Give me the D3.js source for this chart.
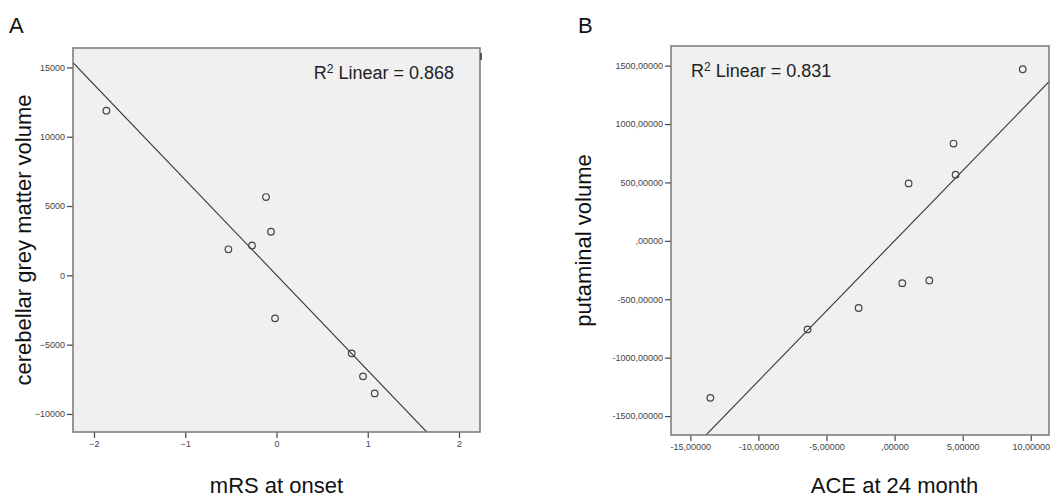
<!DOCTYPE html>
<html>
<head>
<meta charset="utf-8">
<script src="https://cdn.jsdelivr.net/npm/d3@7"></script>
<style>
  body { margin: 0; background: #fff; }
  text { font-family: "Liberation Sans", Arial, sans-serif; }
</style>
</head>
<body>
<svg width="1064" height="500"></svg>
<script>
// Panel A: mRS at onset vs cerebellar grey matter volume
var mrsX = [-1.864, -0.115, -0.06, -0.268, -0.527, -0.016, 0.824, 0.948, 1.076];
var cerebY = [11876, 5650, 3146, 2157, 1880, -3102, -5628, -7287, -8514];
var ticksAX = [-2, -1, 0, 1, 2];
var ticksAY = [15000, 10000, 5000, 0, -5000, -10000];

// Panel B: ACE at 24 month vs putaminal volume
var aceX = [9.41, 4.33, 4.48, 1.03, 0.565, 2.55, -2.64, -6.39, -13.53];
var putY = [1469, 833, 566, 492, -362, -339, -575, -758, -1344];
var ticksBX = [-15, -10, -5, 0, 5, 10];
var ticksBY = [1500, 1000, 500, 0, -500, -1000, -1500];

var svg = d3.select("svg");

// comma decimal like SPSS output: 1500,00000 / ,00000
function spssFmt(v) {
    var s = d3.format(".5f")(Math.abs(v)).replace(".", ",");
    if (s.charAt(0) === "0") s = s.slice(1);
    return (v < 0 ? "-" : "") + s;
}

function fit(xs, ys) {
    var mx = d3.mean(xs), my = d3.mean(ys), sxy = 0, sxx = 0;
    xs.forEach(function(x, i) { sxy += (x - mx) * (ys[i] - my); sxx += (x - mx) * (x - mx); });
    var b = sxy / sxx;
    return { b: b, a: my - b * mx };
}

function panel(o) {
    var g = svg.append("g");
    var x = d3.scaleLinear().domain(o.xDom).range([o.left, o.right]);
    var y = d3.scaleLinear().domain(o.yDom).range([o.bottom, o.top]);

    g.append("rect")
        .attr("x", o.left).attr("y", o.top)
        .attr("width", o.right - o.left).attr("height", o.bottom - o.top)
        .attr("fill", "#f0f0f0");

    var clipId = "clip" + o.id;
    g.append("clipPath").attr("id", clipId)
        .append("rect")
        .attr("x", o.left).attr("y", o.top)
        .attr("width", o.right - o.left).attr("height", o.bottom - o.top);

    // regression line
    var f = fit(o.xs, o.ys);
    g.append("line")
        .attr("clip-path", "url(#" + clipId + ")")
        .attr("x1", x(o.xDom[0])).attr("y1", y(f.a + f.b * o.xDom[0]))
        .attr("x2", x(o.xDom[1])).attr("y2", y(f.a + f.b * o.xDom[1]))
        .attr("stroke", "#333").attr("stroke-width", 1.1);

    // points
    g.selectAll("circle.pt")
        .data(o.xs)
        .enter().append("circle")
        .attr("class", "pt")
        .attr("cx", function(d) { return x(d); })
        .attr("cy", function(d, i) { return y(o.ys[i]); })
        .attr("r", 3.3)
        .attr("fill", "none")
        .attr("stroke", "#444")
        .attr("stroke-width", 1.2);

    // axes
    var yAxis = d3.axisLeft(y).tickValues(o.yTicks).tickSize(6).tickPadding(2).tickFormat(o.fmt);
    var xAxis = d3.axisBottom(x).tickValues(o.xTicks).tickSize(6).tickPadding(3).tickFormat(o.fmt);

    var ya = g.append("g").attr("transform", "translate(" + o.left + ",0)").call(yAxis);
    var xa = g.append("g").attr("transform", "translate(0," + o.bottom + ")").call(xAxis);
    [ya, xa].forEach(function(a) {
        a.select(".domain").remove();
        a.selectAll("line").attr("stroke", "#444").attr("stroke-width", 1.2);
        a.selectAll("text").attr("fill", "#444").style("font-size", "9px");
    });

    // frame
    g.append("rect")
        .attr("x", o.left).attr("y", o.top)
        .attr("width", o.right - o.left).attr("height", o.bottom - o.top)
        .attr("fill", "none").attr("stroke", "#777").attr("stroke-width", 1.5);

    // R square label
    var r2 = g.append("text")
        .attr("x", o.r2x).attr("y", o.top + 31)
        .attr("text-anchor", o.r2anchor)
        .attr("fill", "#222")
        .style("font-size", "18px");
    r2.append("tspan").text("R");
    r2.append("tspan").attr("dy", -6).style("font-size", "12px").text("2");
    r2.append("tspan").attr("dy", 6).text(" Linear = " + o.r2);

    // axis titles
    g.append("text")
        .attr("transform", "translate(" + o.yTitleX + "," + ((o.top + o.bottom) / 2) + ") rotate(-90)")
        .attr("text-anchor", "middle")
        .attr("fill", "#111")
        .style("font-size", "22px")
        .text(o.yTitle);

    g.append("text")
        .attr("x", x(0)).attr("y", 493)
        .attr("text-anchor", "middle")
        .attr("fill", "#111")
        .style("font-size", "22px")
        .text(o.xTitle);

    g.append("text")
        .attr("x", o.letterX).attr("y", 33)
        .attr("fill", "#111")
        .style("font-size", "22px")
        .text(o.letter);

    return g;
}

var gA = panel({
    id: "A", letter: "A", letterX: 9,
    xs: mrsX, ys: cerebY,
    xDom: [-2.23, 2.23], yDom: [-11300, 16400],
    xTicks: ticksAX, yTicks: ticksAY, fmt: d3.format("d"),
    left: 73, right: 480, top: 48, bottom: 432,
    r2: "0.868", r2x: 454, r2anchor: "end",
    yTitle: "cerebellar grey matter volume", yTitleX: 31,
    xTitle: "mRS at onset"
});
// small stray mark at top right of frame A
gA.append("rect").attr("x", 480).attr("y", 53).attr("width", 2).attr("height", 7).attr("fill", "#555");

panel({
    id: "B", letter: "B", letterX: 578,
    xs: aceX, ys: putY,
    xDom: [-16.42, 11.34], yDom: [-1662, 1668],
    xTicks: ticksBX, yTicks: ticksBY, fmt: spssFmt,
    left: 671, right: 1049, top: 46, bottom: 435,
    r2: "0.831", r2x: 691, r2anchor: "start",
    yTitle: "putaminal volume", yTitleX: 591,
    xTitle: "ACE at 24 month"
});
</script>
</body>
</html>
